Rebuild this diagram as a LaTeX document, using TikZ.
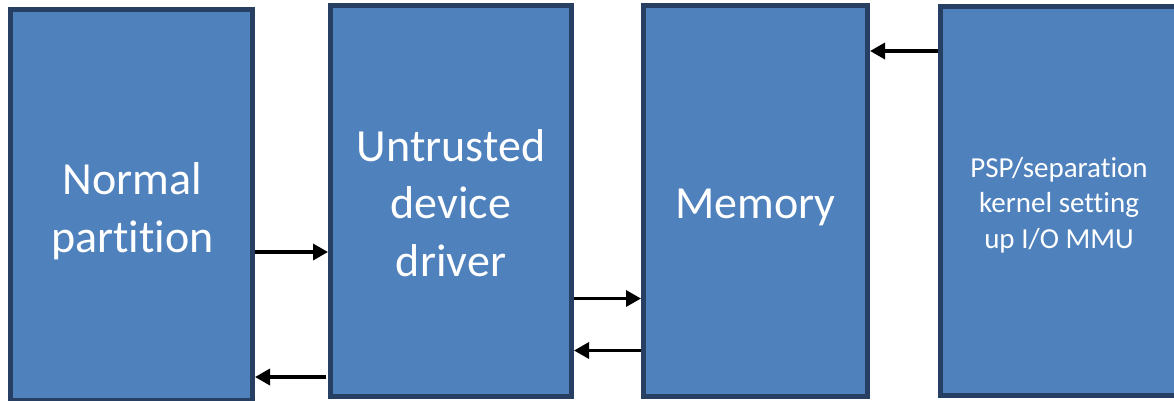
\documentclass[tikz,border=0pt]{standalone}
\usepackage{fontspec}
\setmainfont{Carlito}[Ligatures=NoCommon]
\usetikzlibrary{arrows.meta}
\definecolor{boxfill}{HTML}{4F81BD}
\definecolor{boxline}{HTML}{263F62}
\tikzset{
  block/.style={draw=boxline, fill=boxfill, line width=5pt, inner sep=0pt,
                minimum height=391pt},
  bigtext/.style={text=white, align=center, inner sep=0pt,
                  font=\fontsize{46}{57.5}\selectfont},
  smalltext/.style={text=white, align=center, inner sep=0pt,
                    font=\fontsize{29}{35.5}\selectfont},
  flow/.style={line width=3.4pt, -{Triangle[length=15pt,width=16pt]}}
}
\begin{document}
\begin{tikzpicture}[x=1pt, y=-1pt]
  \useasboundingbox (0,0) rectangle (1174,400);

  % the four blocks
  \node[block, minimum width=242pt] (normal) at (131.5,205) {};
  \node[block, minimum width=241pt] (driver) at (451,201) {};
  \node[block, minimum width=224pt] (memory) at (755.5,201) {};
  \node[block, minimum width=237pt, minimum height=389pt] (psp) at (1059,201) {};

  % block captions
  \node[bigtext] (normaltxt) at (132.5,211) {Normal\\partition};
  \node[bigtext] (drivertxt) at (451,203) {Untrusted\\device\\driver};
  \node[bigtext] (memorytxt) at (755.5,207) {Memory};
  \node[smalltext] (psptxt) at (1059,205) {PSP/separation\\kernel setting\\up I/O MMU};

  % rows at which the connectors run
  \coordinate (rowA) at (0,252);
  \coordinate (rowB) at (0,377);
  \coordinate (rowC) at (0,298.5);
  \coordinate (rowD) at (0,350.5);
  \coordinate (rowE) at (0,51);

  % connectors between the blocks
  \draw[flow] (normal.east |- rowA) -- (driver.west |- rowA);
  \draw[flow] ([xshift=-2pt]driver.west |- rowB) -- (normal.east |- rowB);
  \draw[flow] (driver.east |- rowC) -- (memory.west |- rowC);
  \draw[flow] (memory.west |- rowD) -- (driver.east |- rowD);
  \draw[flow] (psp.west |- rowE) -- (memory.east |- rowE);
\end{tikzpicture}
\end{document}
